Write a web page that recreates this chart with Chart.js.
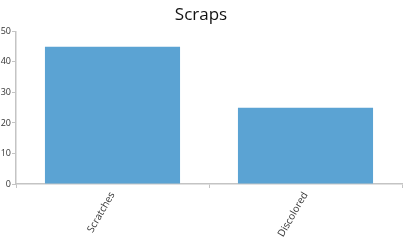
<!DOCTYPE html>
<html>
<head>
<meta charset="utf-8">
<script src="https://cdn.jsdelivr.net/npm/chart.js@4"></script>
<style>
  html, body { margin: 0; padding: 0; background: #fff; }
  #wrap { width: 410px; height: 242px; }
</style>
</head>
<body>
<div id="wrap"><canvas id="scrapChart"></canvas></div>
<script>
// chart data
const categories = ["Scratches", "Discolored"];
const scrapCounts = [45, 25];
const yTicks = [0, 10, 20, 30, 40, 50];

const axisColor = "#c4c4c4";
const fontFamily = "'Open Sans', 'Noto Sans', sans-serif";

const canvas = document.getElementById("scrapChart");

new Chart(canvas, {
  type: "bar",
  data: {
    labels: categories,
    datasets: [{
      label: "Scraps",
      data: scrapCounts,
      backgroundColor: "#5ba3d3",
      borderWidth: 0,
      barPercentage: 0.7,
      categoryPercentage: 1.0
    }]
  },
  options: {
    responsive: true,
    maintainAspectRatio: false,
    animation: false,
    layout: {
      padding: { top: 0, right: 8, bottom: 0, left: 0 }
    },
    plugins: {
      legend: { display: false },
      tooltip: { enabled: false },
      title: {
        display: true,
        text: "Scraps",
        color: "#111",
        font: { family: fontFamily, size: 17, weight: "normal" },
        padding: { top: 5, bottom: 6 }
      }
    },
    scales: {
      x: {
        grid: {
          display: true,
          drawOnChartArea: false,
          drawTicks: true,
          tickLength: 4,
          color: axisColor,
          offset: true
        },
        border: { display: true, color: axisColor, width: 1.5 },
        ticks: {
          color: "#333",
          font: { family: fontFamily, size: 10 },
          minRotation: 60,
          maxRotation: 60,
          padding: 2
        },
        afterFit: (scale) => { scale.height = 58; }
      },
      y: {
        min: 0,
        max: 50,
        afterBuildTicks: (scale) => {
          scale.ticks = yTicks.map(v => ({ value: v }));
        },
        grid: {
          display: true,
          drawOnChartArea: false,
          drawTicks: true,
          tickLength: 4,
          color: axisColor
        },
        border: { display: true, color: axisColor, width: 1.5 },
        ticks: {
          color: "#333",
          font: { family: fontFamily, size: 9 },
          padding: 1
        },
        afterFit: (scale) => { scale.width = 16; }
      }
    }
  }
});
</script>
</body>
</html>
